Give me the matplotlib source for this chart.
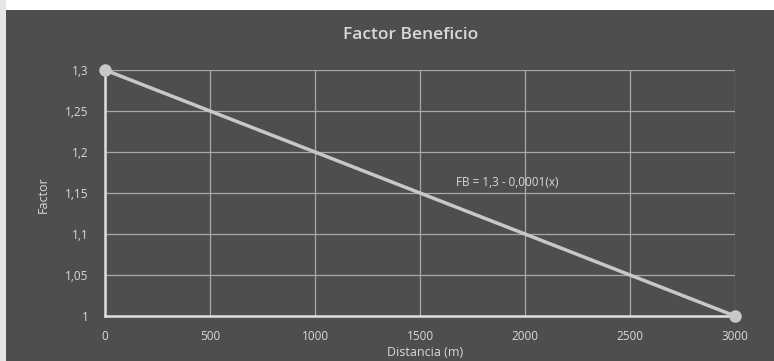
import matplotlib.pyplot as plt
from matplotlib.patches import Rectangle

# distance (m) vs benefit factor, FB = 1.3 - 0.0001*x
distancia = [0, 3000]
factor = [1.3, 1.0]
x_ticks = [0, 500, 1000, 1500, 2000, 2500, 3000]
y_ticks = [1.0, 1.05, 1.1, 1.15, 1.2, 1.25, 1.3]
y_labels = ['1', '1,05', '1,1', '1,15', '1,2', '1,25', '1,3']
ecuacion = 'FB = 1,3 - 0,0001(x)'

bg = '#4e4e4e'
fg = '#d9d9d9'
plt.rcParams['font.family'] = ['Open Sans', 'DejaVu Sans']

fig = plt.figure(figsize=(7.74, 3.61), dpi=100, facecolor=bg)
# white paper strip above and left of the chart
fig.patches.append(Rectangle((0, 1 - 10 / 361), 1, 10 / 361, transform=fig.transFigure,
                             facecolor='white', edgecolor='none', zorder=0))
fig.patches.append(Rectangle((0, 0), 6 / 774, 1, transform=fig.transFigure,
                             facecolor='#e6e6e6', edgecolor='none', zorder=0))

ax = fig.add_axes([105 / 774, 45 / 361, 630 / 774, 246 / 361])
ax.set_facecolor(bg)

ax.plot(distancia, factor, color='#c8c8c8', linewidth=2.5, marker='o',
        markersize=8, markerfacecolor='#c8c8c8', markeredgecolor='#c8c8c8',
        clip_on=False, zorder=3)

ax.set_xlim(0, 3000)
ax.set_ylim(1.0, 1.3)
ax.set_xticks(x_ticks)
ax.set_yticks(y_ticks)
ax.set_yticklabels(y_labels)
ax.grid(True, color='#a8a8a8', linewidth=0.9)
ax.set_axisbelow(True)

for s in ['top', 'right']:
    ax.spines[s].set_visible(False)
for s in ['left', 'bottom']:
    ax.spines[s].set_color('#e0e0e0')
    ax.spines[s].set_linewidth(1.8)

ax.tick_params(length=0, colors=fg, labelsize=8.5)
ax.tick_params(axis='y', pad=12)
ax.tick_params(axis='x', pad=10)

ax.text(1670, 1.163, ecuacion, color=fg, fontsize=8.5, va='center', ha='left')

fig.text(0.531, 1 - 35 / 361, 'Factor Beneficio', color=fg, fontsize=12.5,
         fontweight='semibold', ha='center', va='center')
fig.text(425 / 774, 1 - 352 / 361, 'Distancia (m)', color=fg, fontsize=9,
         ha='center', va='center')
fig.text(43 / 774, 1 - 195 / 361, 'Factor', color=fg, fontsize=9,
         rotation=90, ha='center', va='center')

fig.savefig('out.png', dpi=100, facecolor=bg)
